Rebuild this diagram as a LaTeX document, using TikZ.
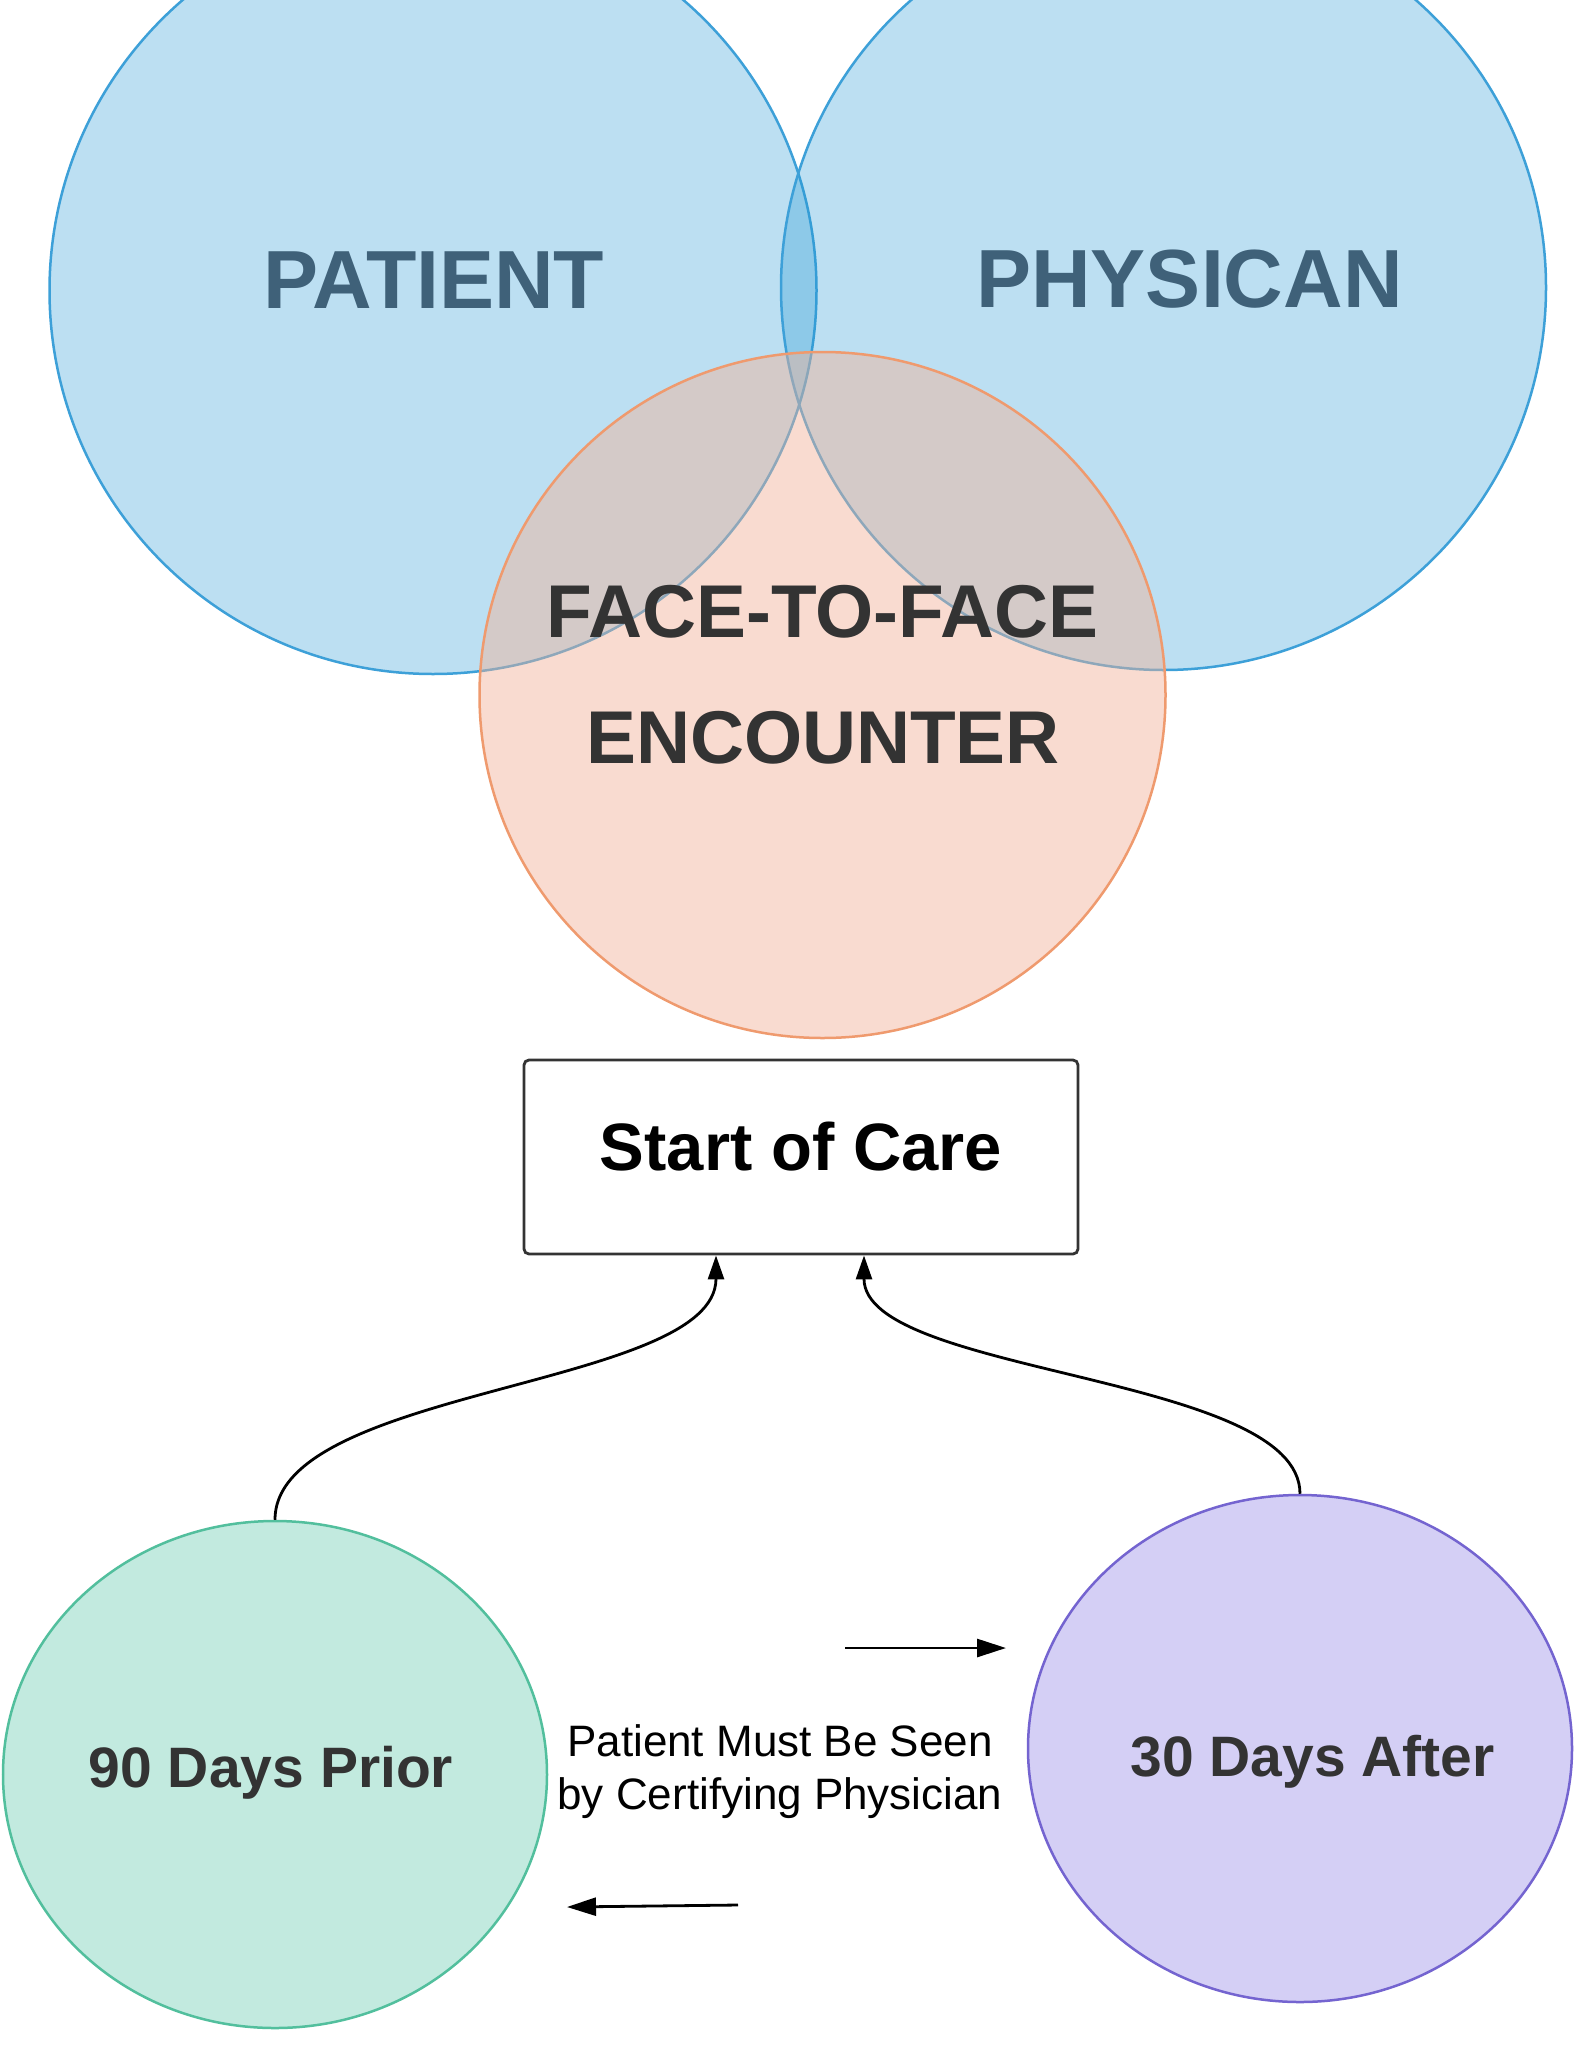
\documentclass[tikz,border=0pt]{standalone}
\usepackage{fontspec}
\setmainfont{Liberation Sans}
\usetikzlibrary{shapes.geometric,arrows.meta,calc}
\definecolor{bluefill}{RGB}{35,152,212}
\definecolor{bluedraw}{RGB}{61,160,216}
\definecolor{orfill}{RGB}{242,177,151}
\definecolor{ordraw}{RGB}{239,154,110}
\definecolor{grfill}{RGB}{194,234,223}
\definecolor{grdraw}{RGB}{82,191,157}
\definecolor{pufill}{RGB}{212,207,245}
\definecolor{pudraw}{RGB}{116,100,208}
\definecolor{slate}{RGB}{63,97,121}
\definecolor{dgray}{RGB}{51,51,51}
\tikzset{
  bigcirc/.style={circle, inner sep=0pt, line width=2.5pt},
  bluecirc/.style={bigcirc, draw=bluedraw, fill=bluefill, fill opacity=0.3, draw opacity=1},
  facecirc/.style={bigcirc, draw=ordraw, fill=orfill, fill opacity=0.45, draw opacity=1},
  dayell/.style={ellipse, inner sep=0pt, line width=2.5pt, minimum width=544pt, minimum height=507pt},
  vlabel/.style={anchor=base, inner sep=0pt, font=\bfseries},
  conn/.style={line width=2.8pt, -{Triangle[length=24pt,width=16pt]}},
  sarrow/.style={line width=2.8pt, -{Triangle[length=29pt,width=18pt]}},
  socbox/.style={draw=dgray, line width=2.8pt, rounded corners=5pt, minimum width=554pt, minimum height=194pt, inner sep=0pt, text height=48pt, text depth=21pt, font=\bfseries\fontsize{67}{80}\selectfont}
}
\begin{document}
\begin{tikzpicture}[x=1pt,y=-1pt]
\useasboundingbox (0,0) rectangle (1583,2048);
\clip (0,0) rectangle (1583,2048);
\fill[white] (0,0) rectangle (1583,2048);
% Venn circles
\node[bluecirc, minimum size=767pt] (patient) at (433,290.5) {};
\node[bluecirc, minimum size=765pt] (physician) at (1163.5,287.5) {};
\node[facecirc, minimum size=686pt] (face) at (822.5,695) {};
% Venn labels
\node[vlabel, text=slate, font=\bfseries\fontsize{82.5}{99}\selectfont] (patientlbl) at (434,308) {PATIENT};
\node[vlabel, text=slate, font=\bfseries\fontsize{82.5}{99}\selectfont] (physicianlbl) at (1189.5,307.5) {PHYSICAN};
\node[vlabel, text=dgray, font=\bfseries\fontsize{74.8}{90}\selectfont] (facelbl1) at (822.5,637) {FACE-TO-FACE};
\node[vlabel, text=dgray, font=\bfseries\fontsize{74.8}{90}\selectfont] (facelbl2) at (823,763) {ENCOUNTER};
% Start of care
\node[socbox] (soc) at (801,1157) {Start of Care};
% day ellipses
\node[dayell, draw=grdraw, fill=grfill] (prior) at (275,1774.5) {};
\node[dayell, draw=pudraw, fill=pufill] (after) at (1300,1748.5) {};
\node[vlabel, text=dgray, font=\bfseries\fontsize{57}{68}\selectfont] (priorlbl) at (271,1787) {90 Days Prior};
\node[vlabel, text=dgray, font=\bfseries\fontsize{57}{68}\selectfont] (afterlbl) at (1312.5,1776) {30 Days After};
% middle text
\node[anchor=center, align=center, inner sep=0pt, font=\fontsize{44}{53}\selectfont] (seen) at (780,1772) {Patient Must Be Seen\\by Certifying Physician};
% connectors
\draw[conn] (prior.north) .. controls +(0,-133) and +(0,133) .. ($(soc.south)+(-85,0)$);
\draw[conn] (after.north) .. controls +(0,-120) and +(0,120) .. ($(soc.south)+(63,0)$);
% small arrows
\coordinate (ra1) at (845,1648);
\coordinate (ra2) at (1006,1648);
\coordinate (la1) at (738,1905);
\coordinate (la2) at (567,1907);
\draw[sarrow] (ra1) -- (ra2);
\draw[sarrow] (la1) -- (la2);
\end{tikzpicture}
\end{document}
